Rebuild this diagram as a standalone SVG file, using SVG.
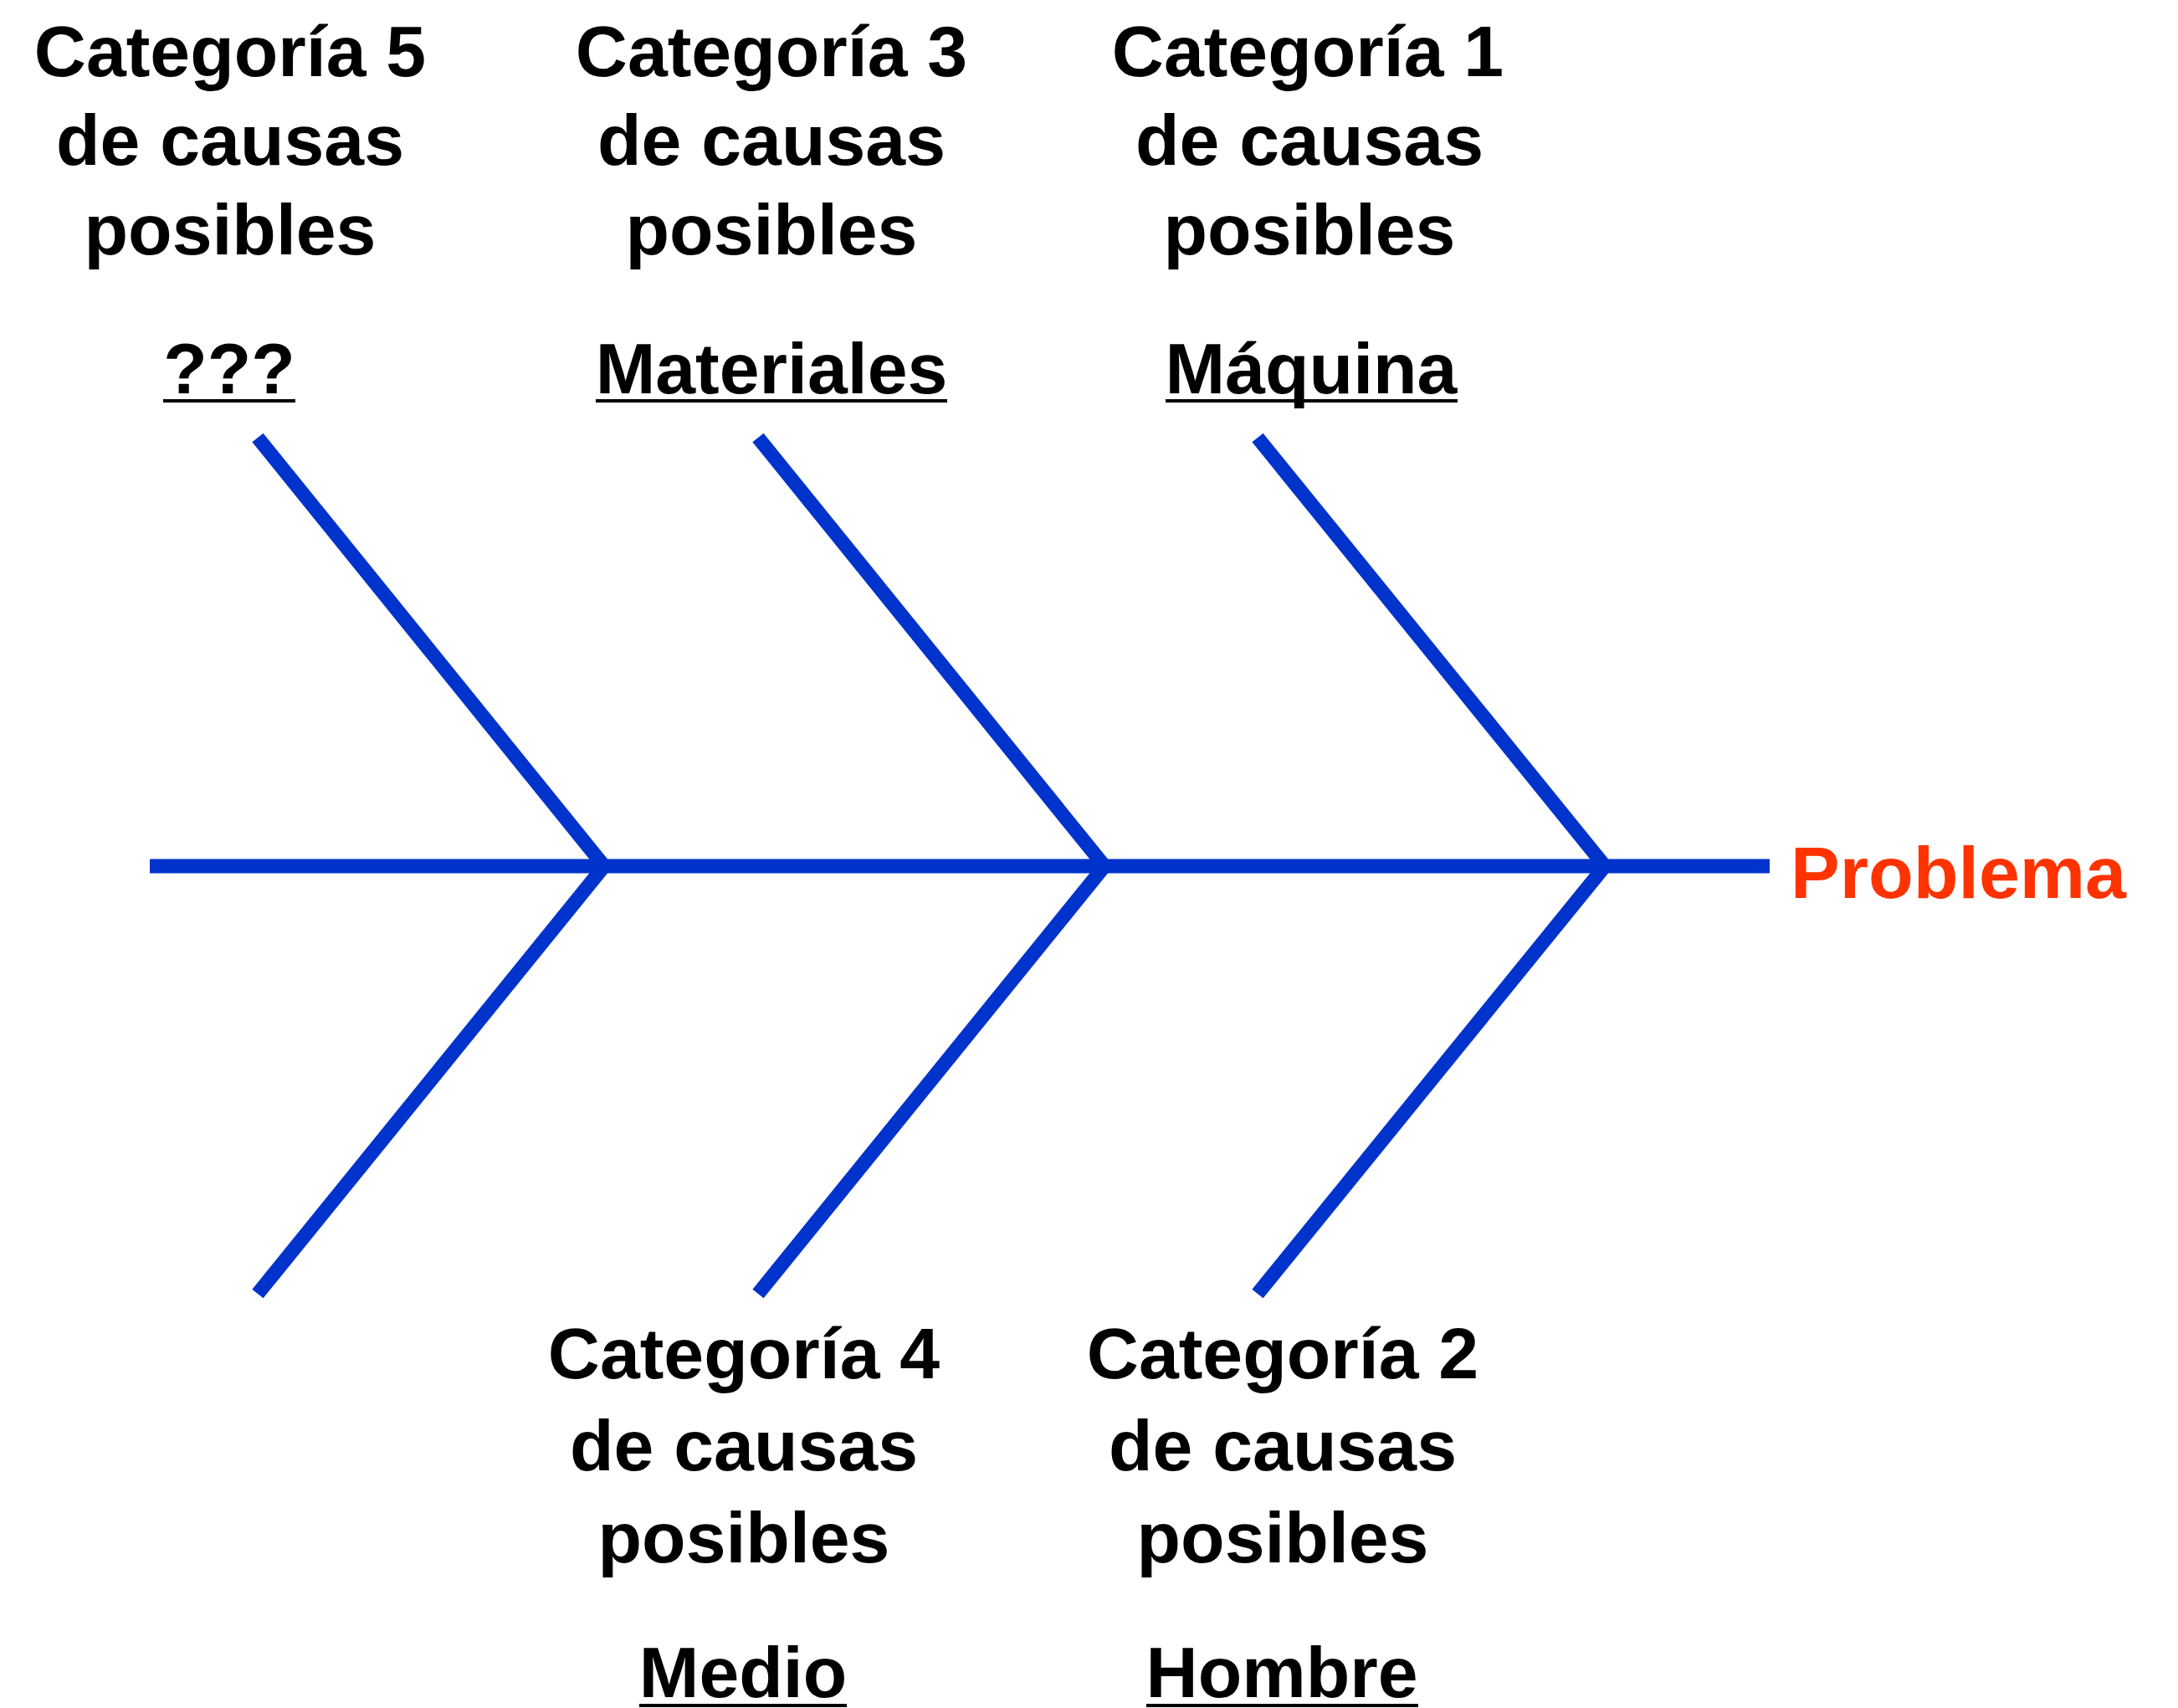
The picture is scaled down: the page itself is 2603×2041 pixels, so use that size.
<svg xmlns="http://www.w3.org/2000/svg" width="2603" height="2041" viewBox="0 0 2603 2041">
<style>
.t{font-family:"Liberation Sans",Arial,Helvetica,sans-serif;font-weight:bold;font-size:86px;fill:#000;text-anchor:middle}
.p{font-family:"Liberation Sans",Arial,Helvetica,sans-serif;font-weight:bold;font-size:88px;fill:#FF3300}
.u{stroke:#000;stroke-width:4}
.b{fill:none;stroke:#0033CC;stroke-width:17;stroke-linejoin:miter;stroke-miterlimit:4}
</style>
<rect width="2603" height="2041" fill="#fff"/>
<g id="connectors">
<line class="b" x1="179" y1="1035" x2="2115" y2="1035"/>
<polyline class="b" points="308,523 722,1035 308,1546"/>
<polyline class="b" points="906,523 1320,1035 906,1546"/>
<polyline class="b" points="1503,523 1918,1035 1503,1546"/>
</g>
<g id="cat5">
<text class="t" x="275" y="91">Categoría 5</text>
<text class="t" x="275" y="197">de causas</text>
<text class="t" x="275" y="304">posibles</text>
<text class="t" x="274" y="470">???</text>
<line class="u" x1="195" y1="479" x2="353" y2="479"/>
</g>
<g id="cat3">
<text class="t" x="922" y="91">Categoría 3</text>
<text class="t" x="922" y="197">de causas</text>
<text class="t" x="922" y="304">posibles</text>
<text class="t" x="922" y="470">Materiales</text>
<line class="u" x1="712" y1="479" x2="1132" y2="479"/>
</g>
<g id="cat1">
<text class="t" x="1563" y="91">Categoría 1</text>
<text class="t" x="1565" y="197">de causas</text>
<text class="t" x="1565" y="304">posibles</text>
<text class="t" x="1567" y="470">Máquina</text>
<line class="u" x1="1393" y1="479" x2="1742" y2="479"/>
</g>
<g id="cat4">
<text class="t" x="889" y="1647">Categoría 4</text>
<text class="t" x="889" y="1757">de causas</text>
<text class="t" x="889" y="1867">posibles</text>
<text class="t" x="888" y="2028">Medio</text>
<line class="u" x1="764" y1="2038" x2="1012" y2="2038"/>
</g>
<g id="cat2">
<text class="t" x="1533" y="1647">Categoría 2</text>
<text class="t" x="1533" y="1757">de causas</text>
<text class="t" x="1533" y="1867">posibles</text>
<text class="t" x="1532" y="2028">Hombre</text>
<line class="u" x1="1370" y1="2038" x2="1695" y2="2038"/>
</g>
<g id="problema">
<text class="p" x="2140" y="1073">Problema</text>
</g>
</svg>
